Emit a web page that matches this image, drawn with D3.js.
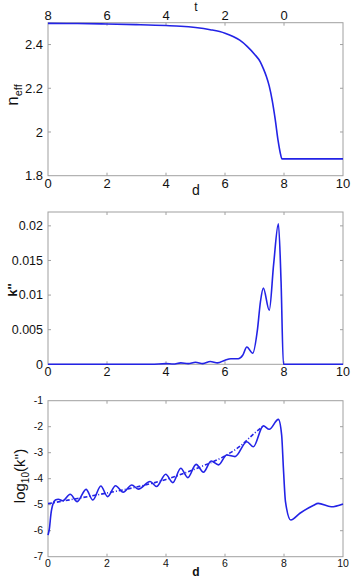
<!DOCTYPE html>
<html>
<head>
<meta charset="utf-8">
<script src="https://cdnjs.cloudflare.com/ajax/libs/d3/7.8.5/d3.min.js"></script>
<style>
  html, body { margin: 0; padding: 0; background: #fff; }
  svg { display: block; }
  text { font-family: "Liberation Sans", Arial, sans-serif; fill: #111; }
</style>
</head>
<body>
<div id="chart"></div>
<script>
// panel 1: effective index vs d
const neffD = [0, 1, 2, 3, 4, 4.5, 5, 5.5, 6, 6.5, 6.75, 7, 7.2, 7.3, 7.4, 7.5, 7.6, 7.7, 7.8, 7.88, 7.93, 8.5, 9, 10];
const neffV = [2.497, 2.496, 2.494, 2.491, 2.487, 2.484, 2.478, 2.468, 2.452, 2.42, 2.392, 2.356, 2.32, 2.29, 2.255, 2.21, 2.145, 2.06, 1.96, 1.9, 1.877, 1.877, 1.877, 1.877];
const tTicks = [8, 6, 4, 2, 0];

// panel 2: k'' vs d
const kD = [0, 1, 2, 3, 3.5, 4, 4.25, 4.5, 4.75, 5, 5.25, 5.5, 5.75, 6, 6.2, 6.45, 6.6, 6.74, 6.94, 7.1, 7.2, 7.3, 7.5, 7.65, 7.81, 7.9, 7.98, 8.1, 9, 10];
const kV = [0, 0, 0, 0, 0, 0.0001, 0.00004, 0.0002, 0.0001, 0.0003, 0.0001, 0.0004, 0.0002, 0.0006, 0.0008, 0.0008, 0.0013, 0.0025, 0.0016, 0.005, 0.009, 0.011, 0.0078, 0.0145, 0.0203, 0.012, 0, 0, 0, 0];

// panel 3: log10(k'') solid + dashed trend
const logD = [0, 0.05, 0.1, 0.16, 0.25, 0.35, 0.5, 0.75, 0.99, 1.29, 1.52, 1.79, 2.02, 2.29, 2.55, 2.84, 3.06, 3.46, 3.68, 3.99, 4.23, 4.5, 4.74, 5.02, 5.27, 5.53, 5.78, 6.06, 6.34, 6.74, 6.96, 7.3, 7.5, 7.81, 7.92, 7.98, 8.05, 8.23, 8.54, 8.99, 9.16, 9.6, 10];
const logV = [-6.17, -5.9, -5.35, -5.0, -4.82, -4.79, -4.85, -4.6, -4.88, -4.41, -4.82, -4.28, -4.69, -4.27, -4.52, -4.24, -4.4, -4.11, -4.3, -3.83, -4.15, -3.6, -3.96, -3.45, -3.75, -3.32, -3.47, -3.09, -3.15, -2.58, -2.77, -1.97, -2.1, -1.72, -2.32, -3.6, -4.88, -5.59, -5.33, -5.03, -4.95, -5.08, -4.97];
const trendD = [0, 1, 2, 3, 4, 5, 6, 6.5, 7, 7.3];
const trendV = [-4.96, -4.76, -4.55, -4.32, -4.03, -3.62, -3.12, -2.76, -2.25, -1.97];

const W = 352, H = 580;
const blue = '#2323e6';
const frame = '#a0a0a0';

const svg = d3.select('#chart').append('svg').attr('width', W).attr('height', H);

const x = d3.scaleLinear().domain([0, 10]).range([48, 343]);

function panel(top, bottom, yDomain, yTicks, fmt, fs) {
  const y = d3.scaleLinear().domain(yDomain).range([bottom, top]);
  const g = svg.append('g');
  const xt = [0, 2, 4, 6, 8, 10];
  // inner ticks on all sides
  g.selectAll('line.tb').data(xt.slice(1, -1)).join('line')
    .attr('x1', d => x(d)).attr('x2', d => x(d))
    .attr('y1', bottom).attr('y2', bottom - 3)
    .attr('stroke', frame);
  g.selectAll('line.tt').data(xt.slice(1, -1)).join('line')
    .attr('x1', d => x(d)).attr('x2', d => x(d))
    .attr('y1', top).attr('y2', top + 3)
    .attr('stroke', frame);
  const inner = yTicks.filter(v => y(v) > top + 1 && y(v) < bottom - 1);
  g.selectAll('line.yl').data(inner).join('line')
    .attr('x1', 48).attr('x2', 51).attr('y1', d => y(d)).attr('y2', d => y(d))
    .attr('stroke', frame);
  g.selectAll('line.yr').data(inner).join('line')
    .attr('x1', 343).attr('x2', 340).attr('y1', d => y(d)).attr('y2', d => y(d))
    .attr('stroke', frame);
  g.append('rect').attr('x', 48).attr('y', top).attr('width', 295).attr('height', bottom - top)
    .attr('fill', 'none').attr('stroke', frame).attr('stroke-width', 1);
  g.selectAll('text.xl').data(xt).join('text')
    .attr('x', d => x(d)).attr('y', bottom + fs * 0.95)
    .attr('text-anchor', 'middle').attr('font-size', fs + 'px')
    .text(d => d);
  g.selectAll('text.yl').data(yTicks).join('text')
    .attr('x', 43).attr('y', d => y(d)).attr('dy', '0.35em')
    .attr('text-anchor', 'end').attr('font-size', fs + 'px')
    .text(fmt);
  return y;
}

function drawLine(xs, ys, y, dash) {
  const pts = xs.map((d, i) => [d, ys[i]]);
  svg.append('path').datum(pts)
    .attr('d', d3.line().x(p => x(p[0])).y(p => y(p[1])).curve(d3.curveMonotoneX))
    .attr('fill', 'none').attr('stroke', blue).attr('stroke-width', 1.6)
    .attr('stroke-dasharray', dash || null);
}

// ---- panel 1
const y1 = panel(22.7, 175.7, [1.8, 2.5], [1.8, 2, 2.2, 2.4], d => d, 13);
drawLine(neffD, neffV, y1);
svg.selectAll('text.top').data(tTicks).join('text')
  .attr('x', t => x(8 - t)).attr('y', 19.5)
  .attr('text-anchor', 'middle').attr('font-size', '13px')
  .text(t => t);
svg.append('text').attr('x', 196).attr('y', 11).attr('text-anchor', 'middle')
  .attr('font-family', '"Liberation Serif", serif').attr('font-size', '12px').text('t');
svg.append('text').attr('x', 196).attr('y', 195).attr('text-anchor', 'middle')
  .attr('font-family', '"Liberation Serif", serif').attr('font-size', '14px').text('d');
const lab1 = svg.append('text').attr('transform', 'translate(18,95) rotate(-90)')
  .attr('text-anchor', 'middle').attr('font-size', '17px');
lab1.append('tspan').text('n');
lab1.append('tspan').attr('font-size', '11px').attr('dy', 4).text('eff');

// ---- panel 2
const y2 = panel(212, 364.3, [0, 0.022], [0, 0.005, 0.01, 0.015, 0.02], d => d, 12.5);
drawLine(kD, kV, y2);
svg.append('text').attr('transform', 'translate(17,290) rotate(-90)')
  .attr('text-anchor', 'middle').attr('font-size', '13px').attr('font-weight', 'bold')
  .text("k''");

// ---- panel 3
const y3 = panel(400.7, 556.7, [-7, -1], [-7, -6, -5, -4, -3, -2, -1], d => d, 10.5);
drawLine(logD, logV, y3);
drawLine(trendD, trendV, y3, '4,2,1,2');
svg.append('text').attr('x', 196).attr('y', 576).attr('text-anchor', 'middle')
  .attr('font-size', '12px').attr('font-weight', 'bold').text('d');
const lab3 = svg.append('text').attr('transform', 'translate(25,476) rotate(-90)')
  .attr('text-anchor', 'middle').attr('font-size', '15px');
lab3.append('tspan').text('log');
lab3.append('tspan').attr('font-size', '10px').attr('dy', 4).text('10');
lab3.append('tspan').attr('dy', -4).text("(k'')");
</script>
</body>
</html>
